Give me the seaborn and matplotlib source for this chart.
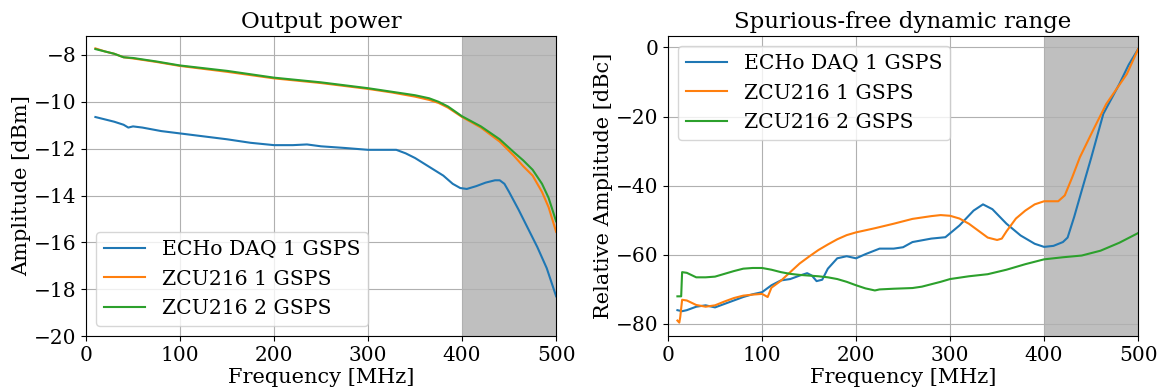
import numpy as np
import pandas as pd
import matplotlib
matplotlib.use("Agg")
import matplotlib.pyplot as plt
import seaborn as sns

# series labels
labels = ["ECHo DAQ 1 GSPS", "ZCU216 1 GSPS", "ZCU216 2 GSPS"]

# output power [dBm] vs frequency [MHz]
pow_echo_f = [10, 20, 30, 40, 45, 50, 60, 80, 100, 120, 150, 175, 200, 220, 235,
              250, 275, 300, 320, 330, 340, 350, 360, 370, 380, 390, 398, 405,
              415, 425, 435, 440, 445, 450, 460, 470, 480, 490, 500]
pow_echo = [-10.65, -10.75, -10.85, -10.98, -11.1, -11.05, -11.1, -11.25, -11.35,
            -11.45, -11.6, -11.75, -11.85, -11.85, -11.82, -11.9, -11.97, -12.05,
            -12.05, -12.05, -12.2, -12.4, -12.65, -12.9, -13.15, -13.5, -13.68,
            -13.72, -13.6, -13.45, -13.35, -13.35, -13.5, -13.85, -14.6, -15.4,
            -16.2, -17.1, -18.3]
pow_zcu1_f = [10, 20, 30, 40, 50, 75, 100, 150, 200, 250, 300, 325, 350, 365,
              375, 385, 400, 420, 440, 455, 465, 475, 485, 492, 500]
pow_zcu1 = [-7.72, -7.85, -7.95, -8.1, -8.15, -8.3, -8.47, -8.72, -9.0, -9.2,
            -9.45, -9.6, -9.78, -9.92, -10.05, -10.25, -10.65, -11.1, -11.7,
            -12.3, -12.75, -13.15, -13.85, -14.5, -15.55]
pow_zcu2_f = [10, 20, 30, 40, 50, 75, 100, 150, 200, 250, 300, 325, 350, 365,
              375, 385, 400, 420, 440, 455, 465, 475, 485, 492, 500]
pow_zcu2 = [-7.75, -7.85, -7.95, -8.1, -8.13, -8.28, -8.45, -8.68, -8.97, -9.17,
            -9.42, -9.57, -9.72, -9.85, -10.0, -10.2, -10.62, -11.05, -11.6,
            -12.15, -12.5, -12.9, -13.5, -14.1, -15.1]

# SFDR [dBc] vs frequency [MHz]
sfdr_echo_f = [10, 15, 20, 25, 30, 40, 50, 60, 70, 80, 90, 100, 110, 120, 130,
               140, 148, 153, 158, 164, 170, 180, 190, 200, 210, 225, 240, 250,
               260, 280, 295, 310, 325, 335, 345, 360, 375, 390, 400, 410, 420,
               425, 432, 440, 450, 463, 480, 490, 500]
sfdr_echo = [-76.0, -76.3, -76.0, -75.5, -75.0, -74.6, -75.2, -74.2, -73.2,
             -72.2, -71.4, -70.8, -68.8, -67.4, -67.0, -66.0, -65.3, -66.0,
             -67.6, -67.2, -64.0, -61.0, -60.4, -61.0, -59.8, -58.2, -58.2,
             -57.8, -56.3, -55.3, -54.9, -51.5, -47.2, -45.4, -46.8, -51.0,
             -54.4, -56.8, -57.7, -57.4, -56.3, -55.0, -49.0, -41.4, -32.0,
             -19.2, -10.6, -5.0, -0.5]
sfdr_zcu1_f = [10, 12, 13, 15, 20, 30, 40, 50, 60, 70, 80, 90, 100, 106, 110,
               120, 130, 140, 150, 160, 170, 180, 190, 200, 220, 240, 260, 280,
               290, 300, 310, 320, 330, 340, 350, 355, 360, 370, 380, 390, 400,
               415, 422, 430, 438, 452, 466, 488, 500]
sfdr_zcu1 = [-79.0, -79.6, -78.0, -73.0, -73.2, -74.5, -75.0, -74.6, -73.5,
             -72.5, -71.8, -71.5, -71.3, -72.2, -69.5, -67.5, -65.0, -62.5,
             -60.5, -58.6, -57.0, -55.5, -54.3, -53.5, -52.3, -51.0, -49.6,
             -48.8, -48.5, -48.7, -49.5, -51.0, -53.0, -55.0, -55.7, -55.3,
             -53.2, -49.5, -47.2, -45.4, -44.5, -44.5, -42.8, -37.5, -31.8,
             -24.0, -16.4, -7.7, -0.5]
sfdr_zcu2_f = [10, 14, 15, 20, 30, 40, 50, 60, 70, 80, 90, 100, 110, 120, 130,
               140, 150, 160, 170, 180, 190, 200, 210, 220, 225, 240, 260, 270,
               280, 290, 300, 320, 340, 360, 380, 400, 420, 440, 460, 480, 500]
sfdr_zcu2 = [-72.0, -72.0, -65.0, -65.2, -66.5, -66.5, -66.3, -65.5, -64.7,
             -64.0, -63.8, -63.8, -64.3, -65.0, -65.5, -65.8, -66.0, -66.2,
             -66.5, -67.0, -67.8, -68.8, -69.7, -70.3, -70.0, -69.8, -69.6,
             -69.2, -68.5, -67.8, -67.0, -66.2, -65.6, -64.3, -62.7, -61.3,
             -60.7, -60.2, -58.8, -56.5, -53.7]


def long_form(pairs):
    frames = []
    for lab, (f, v) in zip(labels, pairs):
        frames.append(pd.DataFrame({"freq": f, "value": v, "device": lab}))
    return pd.concat(frames, ignore_index=True)


power_df = long_form([(pow_echo_f, pow_echo), (pow_zcu1_f, pow_zcu1),
                      (pow_zcu2_f, pow_zcu2)])
sfdr_df = long_form([(sfdr_echo_f, sfdr_echo), (sfdr_zcu1_f, sfdr_zcu1),
                     (sfdr_zcu2_f, sfdr_zcu2)])

plt.rcParams["font.family"] = ["DejaVu Serif"]
plt.rcParams["font.size"] = 14.7
plt.rcParams["xtick.labelsize"] = 14.5
plt.rcParams["ytick.labelsize"] = 14.5
plt.rcParams["axes.labelsize"] = 15
plt.rcParams["axes.labelpad"] = 2
palette = ["#1f77b4", "#ff7f0e", "#2ca02c"]

fig, (ax1, ax2) = plt.subplots(1, 2, figsize=(11.59, 3.89), dpi=100)

sns.lineplot(data=power_df, x="freq", y="value", hue="device", palette=palette,
             hue_order=labels, ax=ax1, linewidth=1.5, sort=True)
ax1.axvspan(400, 500, color="gray", alpha=0.5, linewidth=0)
ax1.set_xlim(0, 500)
ax1.set_ylim(bottom=-20)
ax1.set_yticks([-20, -18, -16, -14, -12, -10, -8])
ax1.grid(True)
ax1.set_title("Output power", fontsize=16.5)
ax1.set_xlabel("Frequency [MHz]")
ax1.set_ylabel("Amplitude [dBm]")
ax1.legend(loc="lower left")

sns.lineplot(data=sfdr_df, x="freq", y="value", hue="device", palette=palette,
             hue_order=labels, ax=ax2, linewidth=1.5, sort=True)
ax2.axvspan(400, 500, color="gray", alpha=0.5, linewidth=0)
ax2.set_xlim(0, 500)
ax2.set_ylim(-83.5, 3.3)
ax2.set_yticks([-80, -60, -40, -20, 0])
ax2.grid(True)
ax2.set_title("Spurious-free dynamic range", fontsize=16.5)
ax2.set_xlabel("Frequency [MHz]")
ax2.set_ylabel("Relative Amplitude [dBc]")
ax2.legend(loc="upper left")

fig.subplots_adjust(left=0.0742, right=0.982, bottom=0.136, top=0.9075, wspace=0.238)
fig.savefig("out.png", dpi=100)
